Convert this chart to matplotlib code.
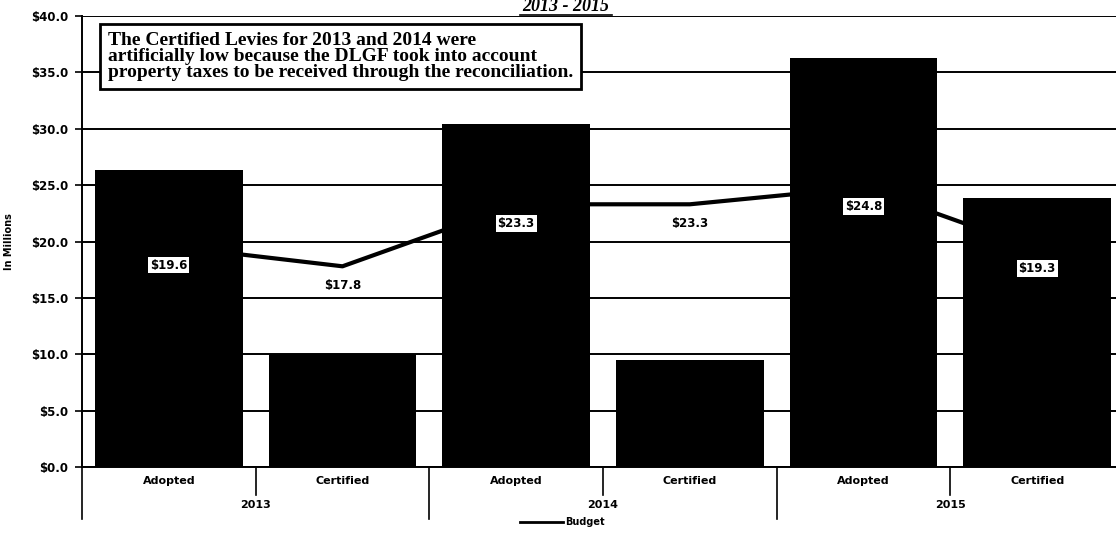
import matplotlib.pyplot as plt
import matplotlib.transforms as mtransforms

# data ($ millions)
categories = ['Adopted', 'Certified', 'Adopted', 'Certified', 'Adopted', 'Certified']
years = ['2013', '2014', '2015']
levy = [26.3, 10.0, 30.4, 9.5, 36.3, 23.9]
budget = [19.6, 17.8, 23.3, 23.3, 24.8, 19.3]
budget_labels = ['$19.6', '$17.8', '$23.3', '$23.3', '$24.8', '$19.3']
yticks = [0, 5, 10, 15, 20, 25, 30, 35, 40]

note = ("The Certified Levies for 2013 and 2014 were\n"
        "artificially low because the DLGF took into account\n"
        "property taxes to be received through the reconciliation.")

fig = plt.figure(figsize=(11.16, 5.37), dpi=100)
ax = fig.add_axes([82 / 1116, 70 / 537, 1042 / 1116, 451 / 537])

x = list(range(len(categories)))

# gridlines behind everything
for v in yticks:
    ax.axhline(v, color='black', lw=1.4, zorder=1)

# budget line sits behind the bars
ax.plot(x, budget, color='black', lw=3, zorder=2)
ax.bar(x, levy, width=0.85, color='black', zorder=3)

for xi, v, lab in zip(x, budget, budget_labels):
    ax.text(xi, v - 1.7, lab, ha='center', va='center', fontsize=8.5,
            fontweight='bold', zorder=5,
            bbox=dict(boxstyle='square,pad=0.15', fc='white', ec='none'))

ax.set_xlim(-0.5, 5.5)
ax.set_ylim(0, 40)
ax.set_yticks(yticks)
ax.set_yticklabels(['$%.1f' % v for v in yticks], fontsize=8.5, fontweight='bold')
ax.tick_params(axis='y', length=5, width=1.2, pad=5)
ax.set_xticks([])
for s in ['top', 'right', 'bottom']:
    ax.spines[s].set_visible(False)
ax.spines['left'].set_linewidth(1.4)
ax.set_ylabel('In Millions', fontsize=7, fontweight='bold', labelpad=12)

# two-level category axis
trans = mtransforms.blended_transform_factory(ax.transData, ax.transAxes)
ax.plot([-0.5, 5.5], [0, 0], color='black', lw=1.4, transform=trans, clip_on=False)
for xi, cat in zip(x, categories):
    ax.text(xi, -0.03, cat, transform=trans, ha='center', va='center',
            fontsize=8, fontweight='bold')
for i, yr in enumerate(years):
    ax.text(2 * i + 0.5, -0.085, yr, transform=trans, ha='center', va='center',
            fontsize=8, fontweight='bold')
for xs in [0.5, 2.5, 4.5]:
    ax.plot([xs, xs], [0, -0.062], color='black', lw=1.2, transform=trans, clip_on=False)
for xs in [-0.5, 1.5, 3.5]:
    ax.plot([xs, xs], [0, -0.115], color='black', lw=1.2, transform=trans, clip_on=False)

# legend below
ax.plot([2.02, 2.27], [-0.123, -0.123], color='black', lw=2, transform=trans, clip_on=False)
ax.text(2.28, -0.123, 'Budget', transform=trans, ha='left', va='center',
        fontsize=7, fontweight='bold')

# note box
ax.text(-0.35, 38.6, note, ha='left', va='top', fontsize=14, fontweight='bold',
        family='Liberation Serif', linespacing=0.93, zorder=6,
        bbox=dict(boxstyle='square,pad=0.4', fc='white', ec='black', lw=2))

# title squeezed against the top edge, underlined
title = fig.text(566 / 1116, 1 - 15 / 537, '2013 - 2015', ha='center', va='bottom',
                 fontsize=13, fontweight='bold', style='italic', family='Liberation Serif')
fig.add_artist(plt.Line2D([520 / 1116, 612 / 1116], [1 - 15 / 537, 1 - 15 / 537],
                          color='black', lw=1.2))

fig.savefig('out.png', dpi=100)
